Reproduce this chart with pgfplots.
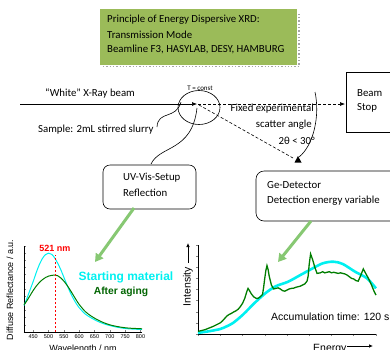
\documentclass[border=0pt]{standalone}
\usepackage{fontspec}
\setmainfont{Carlito}
\newfontfamily\arial{Liberation Sans}
\usepackage{pgfplots}
\pgfplotsset{compat=1.18}
\usetikzlibrary{arrows.meta}
\definecolor{boxgreen}{RGB}{155,187,89}
\definecolor{arrowgreen}{RGB}{135,200,115}
\definecolor{mycyan}{RGB}{0,240,240}
\definecolor{dkgreen}{RGB}{0,125,0}
\definecolor{txtgreen}{RGB}{0,100,0}
\newcommand{\fs}[1]{\fontsize{#1}{#1}\selectfont}
\begin{document}
\begin{tikzpicture}
\useasboundingbox (0pt,0pt) rectangle (390pt,-349pt);
% left plot
\begin{axis}[at={(24pt,-332pt)}, anchor=south west, width=118pt, height=86pt, scale only axis,
  xmin=420, xmax=805, ymin=0, ymax=12, axis lines=left, axis line style={-, line width=0.6pt},
  xtick={450,500,...,800}, ytick={0,1,...,12}, yticklabels={}, tick align=inside,
  major tick length=2pt, tick style={line width=0.5pt},
  ticklabel style={font=\arial\fs{5.5}}, /pgf/number format/assume math mode=true,
  xticklabel style={yshift=1pt}, clip=false]
\addplot[mycyan, line width=1pt, smooth] coordinates {
(420,3.7) (430,4.75) (440,5.9) (450,7.05) (460,8.3) (470,9.4) (480,10.25) (490,10.8)
(500,11.0) (510,10.85) (520,10.35) (530,9.6) (540,8.7) (550,7.65) (560,6.6) (570,5.6)
(580,4.75) (590,4.0) (600,3.4) (620,2.5) (640,1.95) (660,1.5) (680,1.15) (700,0.9)
(720,0.7) (740,0.55) (760,0.45) (780,0.4) (805,0.35)};
\addplot[dkgreen, line width=1pt, smooth] coordinates {
(420,3.8) (430,4.4) (440,5.1) (450,5.8) (460,6.4) (470,6.9) (480,7.3) (490,7.6)
(500,7.8) (510,7.9) (521,7.95) (530,7.85) (540,7.55) (550,7.1) (560,6.55) (570,5.9)
(580,5.2) (590,4.5) (600,3.85) (620,2.85) (640,2.2) (660,1.7) (680,1.3) (700,1.0)
(720,0.8) (740,0.65) (760,0.55) (780,0.5) (805,0.45)};
\addplot[red, line width=0.8pt, dash pattern=on 2.5pt off 1.5pt] coordinates {(521,0) (521,10.8)};
\node[text=red, font=\arial\bfseries\fs{9}] at (axis cs:521,11.7) {521 nm};
\end{axis}
% right plot
\begin{axis}[at={(198pt,-334pt)}, anchor=south west, width=178pt, height=89pt, scale only axis,
  xmin=0, xmax=8, ymin=0, ymax=8, axis lines=left, axis line style={-, line width=0.6pt},
  xtick={0,...,8}, ytick={0,...,8}, xticklabels={}, yticklabels={}, tick align=outside,
  major tick length=2pt, tick style={line width=0.5pt}, clip=false]
\addplot[mycyan, line width=2.6pt, smooth] coordinates {
(0,0.1) (0.5,0.25) (1.0,0.45) (1.3,0.7) (1.58,1.0) (2.0,1.7) (2.3,2.3) (2.6,2.9)
(3.05,3.7) (3.5,4.3) (4.05,4.7) (4.6,5.3) (5.06,5.8) (5.6,6.35) (6.08,6.5) (6.5,6.3)
(7.06,5.6) (7.6,5.0) (8.0,4.1)};
\addplot[dkgreen, line width=1.3pt] coordinates {
(0.0,0.24) (0.1,0.28) (0.2,0.33) (0.3,0.38) (0.4,0.46) (0.5,0.54) (0.6,0.62) (0.7,0.70)
(0.8,0.80) (0.9,0.90) (1.0,1.00) (1.1,1.18) (1.2,1.40) (1.3,1.62) (1.4,1.76) (1.5,1.85)
(1.6,1.98) (1.7,2.08) (1.8,2.22) (1.9,2.45) (2.0,2.75) (2.1,3.20) (2.2,3.85) (2.25,4.10)
(2.3,3.95) (2.4,3.60) (2.5,3.35) (2.6,3.22) (2.7,3.20) (2.8,3.35) (2.9,3.55) (2.95,4.2)
(3.0,5.0) (3.05,5.7) (3.1,6.15) (3.15,5.8) (3.2,5.2) (3.3,4.4) (3.4,4.05) (3.5,4.1)
(3.6,4.15) (3.7,4.05) (3.8,3.9) (3.9,3.85) (4.0,3.95) (4.1,4.05) (4.2,4.1) (4.3,4.12)
(4.4,4.2) (4.5,4.25) (4.6,4.3) (4.7,4.4) (4.8,4.5) (4.9,4.75) (4.95,5.2) (5.0,6.3)
(5.06,7.2) (5.15,6.7) (5.25,6.0) (5.35,5.45) (5.5,5.5) (5.6,5.6) (5.7,5.5) (5.8,5.55)
(5.9,5.6) (6.0,5.5) (6.1,5.55) (6.2,5.5) (6.3,5.45) (6.4,5.5) (6.5,5.45) (6.6,5.4)
(6.7,5.3) (6.8,5.15) (6.9,5.0) (7.0,4.95) (7.1,4.8) (7.2,4.75) (7.3,5.2) (7.43,5.85)
(7.55,5.4) (7.66,5.0) (7.8,4.4) (7.9,3.9) (8.0,3.5)};
\end{axis}
\begin{scope}[x=1pt,y=-1pt]
% title box
\draw[gray!70, dotted, line width=1.3pt] (103,66.5) -- (299,66.5) -- (299,12);
\fill[boxgreen] (100,9) rectangle (297,65);
\node[anchor=west, inner sep=0, font=\fs{10.8}] at (107,20) {Principle of Energy Dispersive XRD:};
\node[anchor=west, inner sep=0, font=\fs{10.8}] at (107,34.5) {Transmission Mode};
\node[anchor=west, inner sep=0, font=\fs{10.8}] at (107,49) {Beamline F3, HASYLAB, DESY, HAMBURG};
% beam
\node[anchor=west, inner sep=0, font=\fs{10.8}] at (45,93) {“White” X-Ray beam};
\node[inner sep=0, font=\fs{7}] at (200,88) {T = const};
\draw[line width=0.6pt, -{Latex[length=5pt,width=4pt]}] (20,104) -- (197,104);
\draw[line width=0.6pt, dash pattern=on 3pt off 2pt, -{Latex[length=5pt,width=4pt]}] (198,104) -- (345,104);
\draw[line width=0.6pt] (199,107.5) ellipse [x radius=21pt, y radius=17pt];
\draw[line width=0.6pt, dash pattern=on 3pt off 2pt] (199,105) -- (293,158);
\draw[line width=0.6pt] (315,92) .. controls (320,115) and (314,145) .. (299,157);
\fill (294.5,162.5) -- (301.5,162.5) -- (298,156) -- cycle;
\node[anchor=east, inner sep=0, font=\fs{10.8}] at (314,109) {Fixed experimental};
\node[anchor=east, inner sep=0, font=\fs{10.8}] at (312,125) {scatter angle};
\node[anchor=east, inner sep=0, font=\fs{10.8}] at (315,141) {2θ < 30°};
% beam stop
\draw[line width=0.6pt] (400,72) -- (346,72) -- (346,132) -- (400,132);
\node[anchor=west, inner sep=0, font=\fs{10.8}] at (357,93) {Beam};
\node[anchor=west, inner sep=0, font=\fs{10.8}] at (357,108) {Stop};
% sample
\node[anchor=west, inner sep=0, font=\fs{10.8}] at (38,130) {Sample: 2mL stirred slurry};
\draw[line width=0.6pt] (157,127) .. controls (158,110) and (176,120) .. (181,102);
\draw[line width=0.6pt] (151,164) .. controls (160,145) and (192,152) .. (197,108);
% UV box
\draw[line width=0.6pt, rounded corners=7pt] (103,165) rectangle (196,209);
\node[anchor=west, inner sep=0, font=\fs{10.8}] at (123,178) {UV-Vis-Setup};
\node[anchor=west, inner sep=0, font=\fs{10.8}] at (123,192.5) {Reflection};
% Ge box
\draw[line width=0.6pt, rounded corners=8pt] (410,171) -- (256,171) -- (256,221) -- (410,221);
\node[anchor=west, inner sep=0, font=\fs{10.8}] at (267,185) {Ge-Detector};
\node[anchor=west, inner sep=0, font=\fs{10.8}] at (267,201) {Detection energy variable};
% green arrows
\draw[arrowgreen, line width=3pt, -{Triangle[length=8pt,width=9pt]}] (134,208) -- (95,262);
\draw[arrowgreen, line width=3pt, -{Triangle[length=8pt,width=9pt]}] (311,221) -- (278,262);
% plot labels
\node[rotate=90, font=\arial\fs{9}] at (10,290) {Diffuse Reflectance / a.u.};
\node[anchor=base, font=\arial\fs{9}] at (83,351.5) {Wavelength / nm};
\node[text=mycyan, font=\arial\bfseries\fs{12}] at (126,277) {Starting material};
\node[text=txtgreen, font=\arial\bfseries\fs{10.3}] at (121,292) {After aging};
\node[rotate=90, anchor=east, inner sep=0, font=\arial\fs{10.5}] at (188,267) {Intensity};
\draw[line width=0.7pt, -{Latex[length=4pt,width=3.5pt]}] (188,263) -- (188,243);
\node[anchor=base west, inner sep=0, font=\arial\fs{10.5}] at (313,351) {Energy};
\draw[line width=0.7pt, -{Latex[length=4pt,width=3.5pt]}] (347,346) -- (373,346);
\node[anchor=west, inner sep=0, font=\arial\fs{10.5}] at (271,317) {Accumulation time: 120 s};
\end{scope}
\end{tikzpicture}
\end{document}
